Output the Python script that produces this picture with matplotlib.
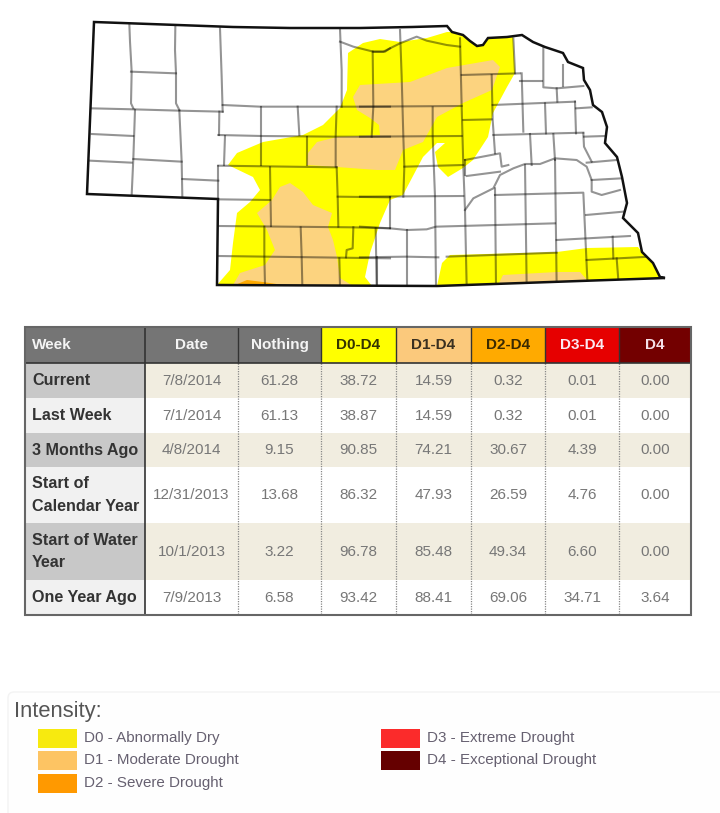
import matplotlib
matplotlib.use('Agg')
import matplotlib.pyplot as plt
from matplotlib.patches import Polygon, Rectangle, FancyBboxPatch

plt.rcParams['font.family'] = ['Liberation Sans', 'DejaVu Sans']

# --- table values ---
col_labels = ['Week', 'Date', 'Nothing', 'D0-D4', 'D1-D4', 'D2-D4', 'D3-D4', 'D4']
week_labels = ['Current', 'Last Week', '3 Months Ago', 'Start of\nCalendar Year',
               'Start of Water\nYear', 'One Year Ago']
dates = ['7/8/2014', '7/1/2014', '4/8/2014', '12/31/2013', '10/1/2013', '7/9/2013']
nothing = ['61.28', '61.13', '9.15', '13.68', '3.22', '6.58']
d0_d4 = ['38.72', '38.87', '90.85', '86.32', '96.78', '93.42']
d1_d4 = ['14.59', '14.59', '74.21', '47.93', '85.48', '88.41']
d2_d4 = ['0.32', '0.32', '30.67', '26.59', '49.34', '69.06']
d3_d4 = ['0.01', '0.01', '4.39', '4.76', '6.60', '34.71']
d4 = ['0.00', '0.00', '0.00', '0.00', '0.00', '3.64']

header_colors = ['#757575', '#757575', '#757575', '#ffff00', '#fbc97c', '#ffaa00', '#e60000', '#730000']
header_text = ['#f4f4f4', '#f4f4f4', '#f4f4f4', '#333300', '#3a3020', '#3a2a00', '#fbe8f0', '#f4e0e8']

legend_left = ['D0 - Abnormally Dry', 'D1 - Moderate Drought', 'D2 - Severe Drought']
legend_right = ['D3 - Extreme Drought', 'D4 - Exceptional Drought']
legend_left_colors = ['#f7ea0f', '#fdc463', '#ff9900']
legend_right_colors = ['#fb2b2b', '#650000']

# --- map shapes, pixel coords of the picture ---
state = [(94, 22), (233, 27), (290, 28), (360, 28), (412, 27), (447, 26), (452, 32), (463, 35),
         (470, 41), (477, 46), (483, 45), (488, 38), (507, 37), (522, 35), (533, 42), (545, 47),
         (563, 53), (568, 62), (583, 68), (584, 80), (590, 90), (593, 105), (602, 112), (607, 127),
         (605, 143), (617, 157), (622, 177), (627, 203), (623, 218), (638, 233), (642, 252),
         (653, 263), (660, 277), (665, 278), (437, 286), (217, 285), (218, 199), (87, 194)]
d0_west = [(217, 285), (230, 270), (233, 243), (237, 213), (250, 202), (260, 190), (253, 177),
           (228, 165), (237, 153), (263, 142), (303, 135), (323, 125), (340, 108), (347, 90),
           (348, 53), (363, 43), (380, 39), (400, 42), (427, 38), (447, 32), (452, 32), (463, 36),
           (477, 46), (483, 45), (488, 38), (513, 37), (515, 73), (507, 87), (493, 113), (488, 137),
           (473, 160), (463, 168), (448, 177), (438, 167), (435, 152), (445, 143), (437, 143),
           (423, 157), (403, 195), (390, 200), (380, 223), (370, 253), (365, 277), (372, 286)]
d0_south = [(437, 286), (442, 263), (450, 255), (557, 252), (587, 248), (638, 247), (642, 252),
            (653, 263), (660, 278)]
d1_north = [(353, 97), (360, 85), (410, 82), (447, 68), (493, 60), (500, 67), (492, 90), (463, 103),
            (437, 117), (423, 142), (403, 150), (395, 170), (377, 170), (337, 167), (307, 165),
            (308, 153), (317, 142), (337, 137), (380, 135), (379, 125), (370, 118), (357, 110)]
d1_sw = [(233, 285), (240, 273), (265, 265), (275, 250), (267, 230), (257, 213), (272, 200),
         (280, 187), (290, 183), (303, 192), (313, 205), (332, 213), (328, 227), (333, 240),
         (337, 257), (340, 278), (353, 286)]
d1_se = [(498, 285), (503, 275), (557, 272), (580, 272), (588, 281)]
d2_sw = [(235, 285), (247, 280), (263, 282), (290, 286)]

# county lines traced on the left and right halves of the map
west_lines = [
    [(178, 42), (180, 95), (185, 185), (183, 280), (190, 295)],
    [(316, 50), (315, 120), (318, 190), (318, 280), (328, 300)],
    [(450, 55), (455, 200), (458, 305)],
    [(810, 58), (815, 180), (815, 290)],
    [(183, 185), (318, 190)],
    [(65, 295), (190, 298), (328, 302), (458, 305)],
    [(458, 285), (570, 290), (815, 290), (960, 290)],
    [(445, 375), (575, 378), (800, 380), (960, 380)],
    [(448, 305), (447, 375)],
    [(572, 290), (572, 465)],
    [(683, 290), (688, 375)],
    [(800, 290), (797, 380), (797, 470)],
    [(908, 125), (910, 290), (905, 380)],
    [(465, 378), (462, 465)],
    [(710, 380), (710, 465)],
    [(445, 467), (800, 472)],
    [(65, 372), (190, 378)],
    [(60, 452), (185, 458)],
    [(195, 300), (190, 445), (185, 555)],
    [(328, 302), (335, 455), (337, 560)],
    [(190, 447), (335, 455)],
    [(337, 507), (445, 512)],
    [(445, 467), (445, 570)],
    [(445, 568), (600, 570)],
    [(600, 472), (603, 648)],
    [(800, 472), (803, 560), (805, 650)],
    [(803, 560), (960, 562)],
    [(447, 648), (850, 652), (960, 655)],
    [(583, 650), (583, 740), (585, 825)],
    [(692, 652), (695, 740), (697, 828)],
    [(850, 652), (848, 715), (830, 720), (828, 742)],
    [(445, 738), (960, 745)],
    [(808, 745), (810, 828)],
    [(917, 655), (920, 828)],
    [(810, 95), (850, 110), (910, 125), (945, 125), (960, 115)],
]
east_lines = [
    [(40, 125), (70, 125), (120, 100), (170, 80), (200, 92), (260, 105), (300, 110)],
    [(120, 60), (125, 200), (130, 380), (133, 470), (130, 560)],
    [(300, 85), (305, 290), (310, 470), (315, 600), (320, 828)],
    [(0, 290), (305, 288)],
    [(0, 380), (305, 378)],
    [(218, 292), (218, 378), (225, 560), (228, 828)],
    [(133, 470), (310, 465)],
    [(0, 560), (310, 558)],
    [(90, 560), (90, 655)],
    [(0, 650), (90, 655), (140, 660), (200, 658), (228, 650), (410, 645), (585, 640)],
    [(140, 660), (140, 828)],
    [(50, 740), (50, 828)],
    [(0, 742), (140, 740), (235, 742)],
    [(260, 740), (590, 728)],
    [(405, 535), (408, 828)],
    [(495, 465), (500, 828)],
    [(585, 450), (590, 828)],
    [(590, 690), (810, 678)],
    [(405, 555), (670, 548), (682, 810)],
    [(680, 750), (870, 740)],
    [(758, 680), (760, 745)],
    [(770, 745), (775, 810)],
    [(678, 615), (790, 605)],
    [(460, 85), (465, 190)],
    [(305, 195), (480, 190)],
    [(395, 195), (398, 330), (405, 430)],
    [(310, 330), (395, 328)],
    [(398, 285), (645, 275)],
    [(485, 190), (490, 365)],
    [(480, 212), (545, 212)],
    [(550, 112), (550, 232), (590, 235), (670, 228)],
    [(608, 165), (608, 228)],
    [(590, 235), (592, 275)],
    [(555, 280), (558, 370)],
    [(645, 275), (648, 370)],
    [(648, 295), (695, 292)],
    [(400, 375), (670, 368)],
    [(510, 372), (515, 465)],
    [(580, 372), (585, 450)],
    [(670, 370), (672, 410), (695, 455)],
    [(672, 380), (735, 378)],
    [(315, 450), (420, 430), (425, 470), (445, 465)],
    [(320, 498), (420, 485)],
    [(315, 450), (315, 495)],
    [(315, 600), (340, 565), (400, 535), (420, 495), (460, 475), (495, 462), (540, 462), (585, 445),
     (650, 450), (680, 470), (695, 510), (695, 545), (725, 555), (780, 540)],
    [(695, 510), (785, 505)],
    [(680, 458), (770, 450)],
]

# --- layout of the table ---
col_x = [25, 145, 238, 321, 396, 471, 545, 619, 691]
row_y = [327, 363, 398, 433, 467, 523, 580, 615]

fig = plt.figure(figsize=(7.2, 8.13), dpi=100)
ax = fig.add_axes([0, 0, 1, 1])
ax.set_xlim(0, 720)
ax.set_ylim(813, 0)
ax.axis('off')

# map
outline = Polygon(state, closed=True, fc='none', ec='#111111', lw=1.8, zorder=6)
ax.add_patch(outline)
for pts, c, z in [(d0_west, '#ffff00', 2), (d0_south, '#ffff00', 2), (d1_north, '#fcd37f', 3),
                  (d1_sw, '#fcd37f', 3), (d1_se, '#fcd37f', 3), (d2_sw, '#ffaa00', 4)]:
    p = Polygon(pts, closed=True, fc=c, ec='none', zorder=z)
    ax.add_patch(p)
    p.set_clip_path(outline)

for seg in west_lines:
    ln, = ax.plot([70 + p[0] / 3 for p in seg], [10 + p[1] / 3 for p in seg], color='black', alpha=0.42, lw=1.5, zorder=5)
    ln.set_clip_path(outline)
for seg in east_lines:
    ln, = ax.plot([360 + p[0] / 3 for p in seg], [10 + p[1] / 3 for p in seg], color='black', alpha=0.42, lw=1.5, zorder=5)
    ln.set_clip_path(outline)

# table
columns = [dates, nothing, d0_d4, d1_d4, d2_d4, d3_d4, d4]
for c in range(8):
    ax.add_patch(Rectangle((col_x[c], row_y[0]), col_x[c + 1] - col_x[c], row_y[1] - row_y[0],
                           fc=header_colors[c], ec='none', zorder=2))
    tx = 32 if c == 0 else (col_x[c] + col_x[c + 1]) / 2
    ax.text(tx, (row_y[0] + row_y[1]) / 2, col_labels[c], ha='left' if c == 0 else 'center', va='center',
            fontsize=11, fontweight='bold', color=header_text[c], zorder=4)

for r in range(6):
    y0, y1 = row_y[r + 1], row_y[r + 2]
    even = r % 2 == 0
    ax.add_patch(Rectangle((col_x[0], y0), col_x[1] - col_x[0], y1 - y0,
                           fc='#c8c8c8' if even else '#f1f1f1', ec='none', zorder=2))
    ax.add_patch(Rectangle((col_x[1], y0), col_x[8] - col_x[1], y1 - y0,
                           fc='#f1ede0' if even else 'white', ec='none', zorder=2))
    ax.text(32, (y0 + y1) / 2, week_labels[r], ha='left', va='center', fontsize=11.6, fontweight='bold',
            color='#333333', linespacing=1.6, zorder=4)
    for c, vals in enumerate(columns):
        ax.text((col_x[c + 1] + col_x[c + 2]) / 2, (y0 + y1) / 2, vals[r], ha='center', va='center',
                fontsize=11, color='#777777', zorder=4)

for x in col_x[2:-1]:
    ax.plot([x, x], [row_y[0], row_y[1]], color='#333333', lw=1, zorder=3)
    ax.plot([x, x], [row_y[1], row_y[-1]], color='#888888', lw=0.9, ls=(0, (1, 1)), zorder=3)
ax.plot([col_x[1], col_x[1]], [row_y[0], row_y[-1]], color='#333333', lw=1.2, zorder=3)
ax.plot([col_x[0], col_x[-1]], [row_y[1], row_y[1]], color='#333333', lw=1.2, zorder=3)
ax.add_patch(Rectangle((col_x[0], row_y[0]), col_x[-1] - col_x[0], row_y[-1] - row_y[0],
                       fc='none', ec='#666666', lw=1.5, zorder=5))

# legend
ax.add_patch(FancyBboxPatch((8, 692), 760, 160, boxstyle='round,pad=0,rounding_size=6',
                            fc='#fefefe', ec='#f3f3f3', lw=1, zorder=1))
ax.text(14, 711, 'Intensity:', fontsize=15.8, color='#555555', ha='left', va='center', zorder=3)
left_y = [738, 760, 783]
right_y = [738, 760]
for y, lab, c in zip(left_y, legend_left, legend_left_colors):
    ax.add_patch(Rectangle((38, y - 9.5), 39, 19, fc=c, ec='none', zorder=2))
    ax.text(84, y, lab, fontsize=10.9, color='#666070', ha='left', va='center', zorder=3)
for y, lab, c in zip(right_y, legend_right, legend_right_colors):
    ax.add_patch(Rectangle((381, y - 9.5), 39, 19, fc=c, ec='none', zorder=2))
    ax.text(427, y, lab, fontsize=10.9, color='#666070', ha='left', va='center', zorder=3)

fig.savefig('out.png', dpi=100, facecolor='white')
